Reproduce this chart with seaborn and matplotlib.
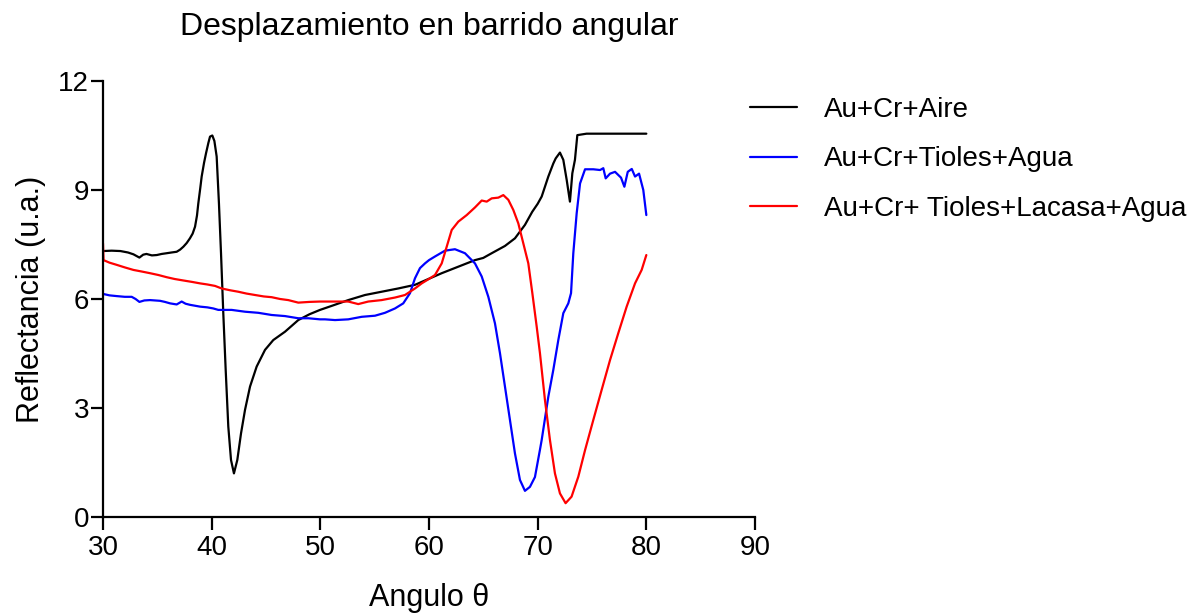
import matplotlib
matplotlib.use("Agg")
import matplotlib.pyplot as plt
import seaborn as sns
import pandas as pd

# Angular scan, sample 1: Au + Cr in air
aire_ang = [30.0, 30.8, 31.6, 32.3, 32.8, 33.35, 33.7, 34.0, 34.5, 34.95, 35.4, 35.86,
            36.3, 36.78, 37.1, 37.4, 37.7, 38.0, 38.25, 38.47, 38.65, 38.77, 38.95, 39.08,
            39.3, 39.48, 39.7, 39.85, 40.06, 40.25, 40.46, 40.67, 40.86, 41.07, 41.29,
            41.53, 41.78, 42.05, 42.36, 42.70, 43.07, 43.53, 44.14, 44.91, 45.67, 46.75,
            47.97, 49.0, 49.97, 51.04, 52.57, 54.11, 55.64, 57.17, 58.71, 59.94, 61.17,
            62.70, 64.23, 64.99, 65.77, 66.99, 67.91, 68.83, 69.5, 70.0, 70.37, 70.98,
            71.44, 71.66, 72.05, 72.36, 72.67, 72.97, 73.19, 73.43, 73.65, 74.5, 76.0,
            78.0, 80.0]
aire_ref = [7.32, 7.33, 7.32, 7.28, 7.23, 7.14, 7.22, 7.24, 7.20, 7.21, 7.24, 7.26,
            7.28, 7.30, 7.36, 7.44, 7.54, 7.67, 7.80, 7.99, 8.30, 8.63, 9.05, 9.37,
            9.75, 10.01, 10.30, 10.47, 10.50, 10.35, 9.92, 8.63, 7.26, 5.61, 4.05,
            2.49, 1.57, 1.20, 1.57, 2.30, 2.95, 3.59, 4.14, 4.60, 4.87, 5.10,
            5.42, 5.58, 5.70, 5.81, 5.97, 6.11, 6.20, 6.29, 6.39, 6.55, 6.71,
            6.89, 7.07, 7.13, 7.26, 7.46, 7.67, 8.04, 8.40, 8.62, 8.82, 9.37,
            9.73, 9.87, 10.03, 9.83, 9.28, 8.68, 9.46, 9.83, 10.51, 10.55, 10.55,
            10.55, 10.55]

# Sample 2: Au + Cr + thiols in water
agua_ang = [30.0, 30.6, 31.26, 32.0, 32.64, 33.0, 33.35, 33.8, 34.33, 35.25, 35.7, 36.17,
            36.78, 37.24, 37.6, 38.0, 38.93, 39.6, 40.15, 40.61, 41.84, 43.07, 44.29,
            45.52, 46.75, 47.97, 48.9, 49.97, 50.43, 51.35, 52.57, 53.81, 55.03, 55.95,
            56.87, 57.63, 58.25, 58.71, 59.17, 59.63, 60.0, 60.55, 61.47, 62.39, 63.31,
            64.23, 64.85, 65.46, 66.07, 66.53, 66.99, 67.45, 67.91, 68.37, 68.83, 69.29,
            69.75, 70.21, 70.37, 70.98, 71.44, 71.90, 72.36, 72.82, 73.07, 73.28, 73.59,
            73.90, 74.36, 75.12, 75.74, 76.04, 76.26, 76.66, 77.12, 77.67, 77.98, 78.29,
            78.66, 78.96, 79.33, 79.72, 80.0]
agua_ref = [6.14, 6.10, 6.08, 6.06, 6.06, 6.00, 5.92, 5.96, 5.97, 5.95, 5.92, 5.88,
            5.85, 5.93, 5.87, 5.84, 5.79, 5.77, 5.74, 5.70, 5.70, 5.65, 5.62,
            5.56, 5.53, 5.47, 5.47, 5.44, 5.44, 5.42, 5.44, 5.51, 5.54, 5.62,
            5.74, 5.88, 6.16, 6.57, 6.85, 6.98, 7.07, 7.17, 7.33, 7.37, 7.26,
            6.98, 6.62, 6.06, 5.33, 4.51, 3.59, 2.67, 1.75, 1.02, 0.72, 0.83,
            1.10, 1.85, 2.12, 3.31, 4.05, 4.87, 5.61, 5.88, 6.16, 7.26, 8.36,
            9.18, 9.57, 9.57, 9.55, 9.60, 9.32, 9.45, 9.50, 9.34, 9.09, 9.50,
            9.58, 9.37, 9.45, 9.00, 8.31]

# Sample 3: Au + Cr + thiols + laccase in water
lacasa_ang = [30.0, 30.05, 30.6, 31.26, 32.0, 32.8, 33.5, 34.33, 35.1, 35.86, 36.6, 37.39,
              38.2, 38.93, 39.6, 40.31, 40.92, 41.7, 42.45, 43.2, 43.99, 44.8, 45.52,
              46.3, 47.05, 47.97, 49.0, 49.97, 51.04, 52.57, 53.49, 54.41, 55.64, 56.87,
              57.79, 58.71, 59.33, 60.09, 60.55, 61.17, 61.63, 62.09, 62.70, 63.47, 64.23,
              64.85, 65.31, 65.77, 66.38, 66.84, 67.30, 67.76, 68.22, 68.68, 69.14, 69.51,
              69.91, 70.21, 70.67, 71.13, 71.59, 72.05, 72.57, 73.12, 73.74, 74.36, 75.12,
              75.89, 76.66, 77.42, 78.19, 78.96, 79.57, 80.0]
lacasa_ref = [7.53, 7.07, 7.00, 6.94, 6.87, 6.80, 6.76, 6.71, 6.66, 6.60, 6.55, 6.51,
              6.47, 6.43, 6.40, 6.36, 6.29, 6.24, 6.20, 6.15, 6.11, 6.07, 6.05,
              6.00, 5.97, 5.90, 5.92, 5.93, 5.93, 5.93, 5.86, 5.93, 5.97, 6.04,
              6.11, 6.29, 6.43, 6.57, 6.66, 6.98, 7.44, 7.90, 8.13, 8.31, 8.52,
              8.71, 8.68, 8.77, 8.79, 8.86, 8.73, 8.45, 8.08, 7.53, 6.98, 6.16,
              5.24, 4.51, 3.22, 2.12, 1.20, 0.65, 0.38, 0.56, 1.11, 1.84, 2.67,
              3.50, 4.32, 5.06, 5.79, 6.43, 6.80, 7.21]

labels = ["Au+Cr+Aire", "Au+Cr+Tioles+Agua", "Au+Cr+ Tioles+Lacasa+Agua"]
colors = ["#000000", "#0000FF", "#FF0000"]
x_ticks = [30, 40, 50, 60, 70, 80, 90]
y_ticks = [0, 3, 6, 9, 12]

frames = []
for lab, xs, ys in zip(labels, [aire_ang, agua_ang, lacasa_ang],
                       [aire_ref, agua_ref, lacasa_ref]):
    frames.append(pd.DataFrame({"angulo": xs, "reflectancia": ys, "muestra": lab}))
df = pd.concat(frames, ignore_index=True)

sns.set_style("ticks")
plt.rcParams["font.family"] = ["Liberation Sans", "DejaVu Sans"]
plt.rcParams["text.color"] = "black"
plt.rcParams["axes.labelcolor"] = "black"
plt.rcParams["xtick.color"] = "black"
plt.rcParams["ytick.color"] = "black"

fig = plt.figure(figsize=(12.03, 6.15), dpi=100)
ax = fig.add_axes([103 / 1203, 1 - 517 / 615, (755 - 103) / 1203, (517 - 81) / 615])

sns.lineplot(data=df, x="angulo", y="reflectancia", hue="muestra",
             hue_order=labels, palette=dict(zip(labels, colors)),
             estimator=None, sort=False, linewidth=1.6, ax=ax)

ax.set_xlim(30, 90)
ax.set_ylim(0, 12)
ax.set_xticks(x_ticks)
ax.set_yticks(y_ticks)
sns.despine(ax=ax)
for side in ("left", "bottom"):
    ax.spines[side].set_linewidth(1.6)
    ax.spines[side].set_color("black")
ax.tick_params(axis="both", direction="out", length=9, width=1.6, color="black",
               labelcolor="black", labelsize=20)
ax.tick_params(axis="x", pad=4)
ax.tick_params(axis="y", pad=1)

ax.set_xlabel("Angulo θ", fontsize=22, labelpad=16)
ax.set_ylabel("Reflectancia (u.a.)", fontsize=22, labelpad=9)
ax.set_title("Desplazamiento en barrido angular", fontsize=23, pad=33)

ax.legend(handles=ax.get_lines()[:3], labels=labels, loc="upper left",
          bbox_to_anchor=(750 / 1203, 1 - 97 / 615), bbox_transform=fig.transFigure,
          frameon=False, fontsize=20, handlelength=1.7, handletextpad=0.95,
          labelspacing=0.84, borderpad=0, borderaxespad=0)

fig.savefig("out.png", dpi=100)
